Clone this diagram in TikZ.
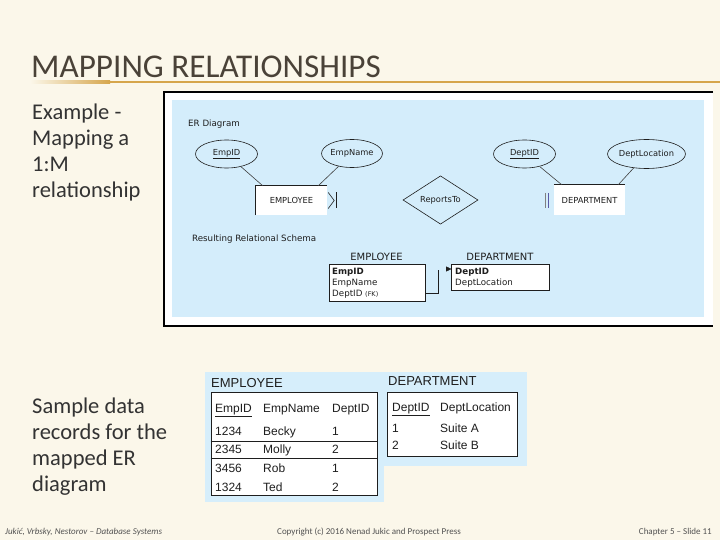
\documentclass[tikz,border=0pt]{standalone}
\usepackage{fontspec}
\setmainfont{Carlito}
\newfontfamily\erfont{DejaVu Sans}
\newfontfamily\arialfont{Liberation Sans}
\usetikzlibrary{shapes.geometric,arrows.meta,calc}
\definecolor{cream}{HTML}{FBF7EA}
\definecolor{gold}{HTML}{D6A64C}
\definecolor{titlecol}{HTML}{4A4238}
\definecolor{bodycol}{HTML}{333333}
\definecolor{erblue}{HTML}{D4EDFB}
\definecolor{tblblue}{HTML}{D6EEFB}
\definecolor{ink}{HTML}{1E1E1E}
\tikzset{
  slidetext/.style={anchor=base west, inner sep=0, text=bodycol, font=\fontsize{22.5}{26}\selectfont},
  foot/.style={anchor=base west, inner sep=0, text=bodycol!85, font=\fontsize{9}{10}\selectfont},
  erlabel/.style={anchor=west, inner sep=0, text=ink, font=\erfont\fontsize{8.7}{10}\selectfont},
  erell/.style={ellipse, draw=ink, line width=0.6pt, inner sep=0, text=ink, font=\erfont\fontsize{8.3}{10}\selectfont},
  erent/.style={rectangle, fill=white, inner sep=0, text=ink, font=\erfont\fontsize{8.3}{10}\selectfont},
  erline/.style={draw=ink!85, line width=0.6pt},
  schemahead/.style={inner sep=0, text=ink, font=\erfont\fontsize{10}{12}\selectfont},
  schemabox/.style={rectangle, draw=ink, fill=white, line width=0.8pt, inner sep=0},
  schemarow/.style={anchor=base west, inner sep=0, text=ink, font=\erfont\fontsize{8.7}{10}\selectfont},
  tbltitle/.style={anchor=base west, inner sep=0, text=ink, font=\arialfont\fontsize{13}{15}\selectfont},
  tblbox/.style={rectangle, draw=ink, fill=white, line width=1pt, inner sep=0},
  tblcell/.style={anchor=base west, inner sep=0, text=ink, font=\arialfont\fontsize{12}{14}\selectfont},
}
\begin{document}
\begin{tikzpicture}[x=1pt,y=-1pt]
\useasboundingbox[fill=cream] (0,0) rectangle (720,540);

% title
\node[anchor=base west, inner sep=0, text=titlecol, font=\fontsize{33.2}{36}\selectfont] (title) at (31,78) {MAPPING RELATIONSHIPS};
\shade[left color=cream, right color=gold] (30,81) rectangle (110,83.2);
\fill[gold] (110,81) rectangle (720,83.2);

% left texts
\node[slidetext] (t1) at (32,120) {Example -};
\node[slidetext] (t2) at (32,146) {Mapping a};
\node[slidetext] (t3) at (32,172) {1:M};
\node[slidetext] (t4) at (32,198) {relationship};
\node[slidetext] (s1) at (32,413) {Sample data};
\node[slidetext] (s2) at (32,439) {records for the};
\node[slidetext] (s3) at (32,465) {mapped ER};
\node[slidetext] (s4) at (32,491) {diagram};

% footers
\node[foot, font=\itshape\fontsize{9}{10}\selectfont] (f1) at (5,534) {Jukić, Vrbsky, Nestorov – Database Systems};
\node[foot] (f2) at (277,534) {Copyright (c) 2016 Nenad Jukic and Prospect Press};
\node[foot, anchor=base east] (f3) at (712,534) {Chapter 5 – Slide 11};

% ER picture frame
\fill[white] (164,92) rectangle (713,326);
\draw[black, line width=1.2pt] (713,92) -- (164,92) -- (164,326) -- (713,326);
\fill[erblue] (172,100) rectangle (704,317);

\node[erlabel] (erd) at (188,124) {ER Diagram};
\node[erell, minimum width=62pt, minimum height=28pt] (empid) at (226.5,154) {\underline{EmpID}};
\node[erell, minimum width=54pt, minimum height=28pt] (empname) at (352,153.5) {EmpName};
\node[erell, minimum width=62pt, minimum height=28pt] (deptid) at (524.5,154) {\underline{DeptID}};
\node[erell, minimum width=66pt, minimum height=29pt] (deptloc) at (646.5,154) {DeptLocation};

\node[erent, minimum width=71pt, minimum height=29pt] (emp) at (291.5,200.5) {EMPLOYEE};
\draw[ink, line width=0.8pt] (emp.south west) -- (emp.north west) -- (emp.north east);
\node[erent, minimum width=71pt, minimum height=30pt] (dept) at (589.5,200) {DEPARTMENT};
\draw[ink, line width=0.8pt] (dept.north west) -- (dept.north east);

\node[diamond, draw=ink, line width=0.6pt, inner sep=0, minimum width=75pt, minimum height=36pt, text=ink, font=\erfont\fontsize{8.3}{10}\selectfont] (rel) at (440.5,200) {ReportsTo};

\draw[erline] (empid) -- ($(emp.north west)+(7,0)$);
\draw[erline] (empname) -- ($(emp.north east)+(-9,0)$);
\draw[erline] (deptid) -- ($(dept.north west)+(8,0)$);
\draw[erline] (deptloc) -- ($(dept.north east)+(-7,0)$);

% crow's foot and bars
\draw[ink, line width=0.6pt] ([shift={(1,-8)}]emp.east) -- ([shift={(7,0)}]emp.east) -- ([shift={(1,8)}]emp.east);
\draw[ink, line width=0.9pt] ([shift={(9,-8)}]emp.east) -- ([shift={(9,8)}]emp.east);
\draw[gray, line width=0.7pt] ([shift={(-8,-7)}]dept.west) -- ([shift={(-8,8)}]dept.west);
\draw[gray!70!blue, line width=0.7pt] ([shift={(-5,-7)}]dept.west) -- ([shift={(-5,8)}]dept.west);

% relational schema
\node[erlabel] (rrs) at (192,239) {Resulting Relational Schema};
\node[schemahead] (empH) at (376.5,256.5) {EMPLOYEE};
\node[schemahead] (deptH) at (500,256.5) {DEPARTMENT};
\node[schemabox, minimum width=96pt, minimum height=37pt] (empT) at (377,282.5) {};
\node[schemabox, minimum width=98pt, minimum height=26pt] (deptT) at (500,277) {};
\node[schemarow] (r1) at (332,274.3) {\textbf{EmpID}};
\node[schemarow] (r2) at (332,285.3) {EmpName};
\node[schemarow] (fk) at (332,296.3) {DeptID {\fontsize{6.5}{8}\selectfont(FK)}};
\node[schemarow] (d1) at (455,274.3) {\textbf{DeptID}};
\node[schemarow] (d2) at (455,285.3) {DeptLocation};
\coordinate (bend) at (438,270);
\coordinate (fkpt) at (425,293);
\draw[ink, line width=0.8pt] (fkpt) -| (bend);
\coordinate (ah1) at (446,269);
\coordinate (ah2) at (451.5,269);
\draw[ink, -{Triangle[length=5.5pt,width=5pt]}] (ah1) -- (ah2);

% sample data tables
\fill[tblblue] (205,372) rectangle (384,502);
\fill[tblblue] (384,372) rectangle (527,466);
\node[tbltitle] (etitle) at (211,387.6) {EMPLOYEE};
\node[tbltitle] (dtitle) at (388,385.8) {DEPARTMENT};
\node[tblbox, minimum width=166pt, minimum height=103pt] (eT) at (294,443.5) {};
\node[tblbox, minimum width=130pt, minimum height=64pt] (dT) at (452,424) {};

\node[tblcell] (h1) at (215,412.3) {\underline{EmpID}};
\node[tblcell] (h2) at (263,412.3) {EmpName};
\node[tblcell] (h3) at (332,412.3) {DeptID};
\node[tblcell] (a1) at (215,435.3) {1234};
\node[tblcell] (a2) at (263,435.3) {Becky};
\node[tblcell] (a3) at (332,435.3) {1};
\node[tblcell] (b1) at (215,453.3) {2345};
\node[tblcell] (b2) at (263,453.3) {Molly};
\node[tblcell] (b3) at (332,453.3) {2};
\node[tblcell] (c1) at (215,472.3) {3456};
\node[tblcell] (c2) at (263,472.3) {Rob};
\node[tblcell] (c3) at (332,472.3) {1};
\node[tblcell] (e1) at (215,491.3) {1324};
\node[tblcell] (e2) at (263,491.3) {Ted};
\node[tblcell] (e3) at (332,491.3) {2};
\draw[ink, line width=0.8pt] (eT.west |- 0,441) -- (eT.east |- 0,441);
\draw[ink, line width=0.8pt] (eT.west |- 0,458) -- (eT.east |- 0,458);

\node[tblcell] (dh1) at (392,411.3) {\underline{DeptID}};
\node[tblcell] (dh2) at (440,411.3) {DeptLocation};
\node[tblcell] (g1) at (392,432.3) {1};
\node[tblcell] (g2) at (440,432.3) {Suite A};
\node[tblcell] (k1) at (392,449.3) {2};
\node[tblcell] (k2) at (440,449.3) {Suite B};
\end{tikzpicture}
\end{document}
